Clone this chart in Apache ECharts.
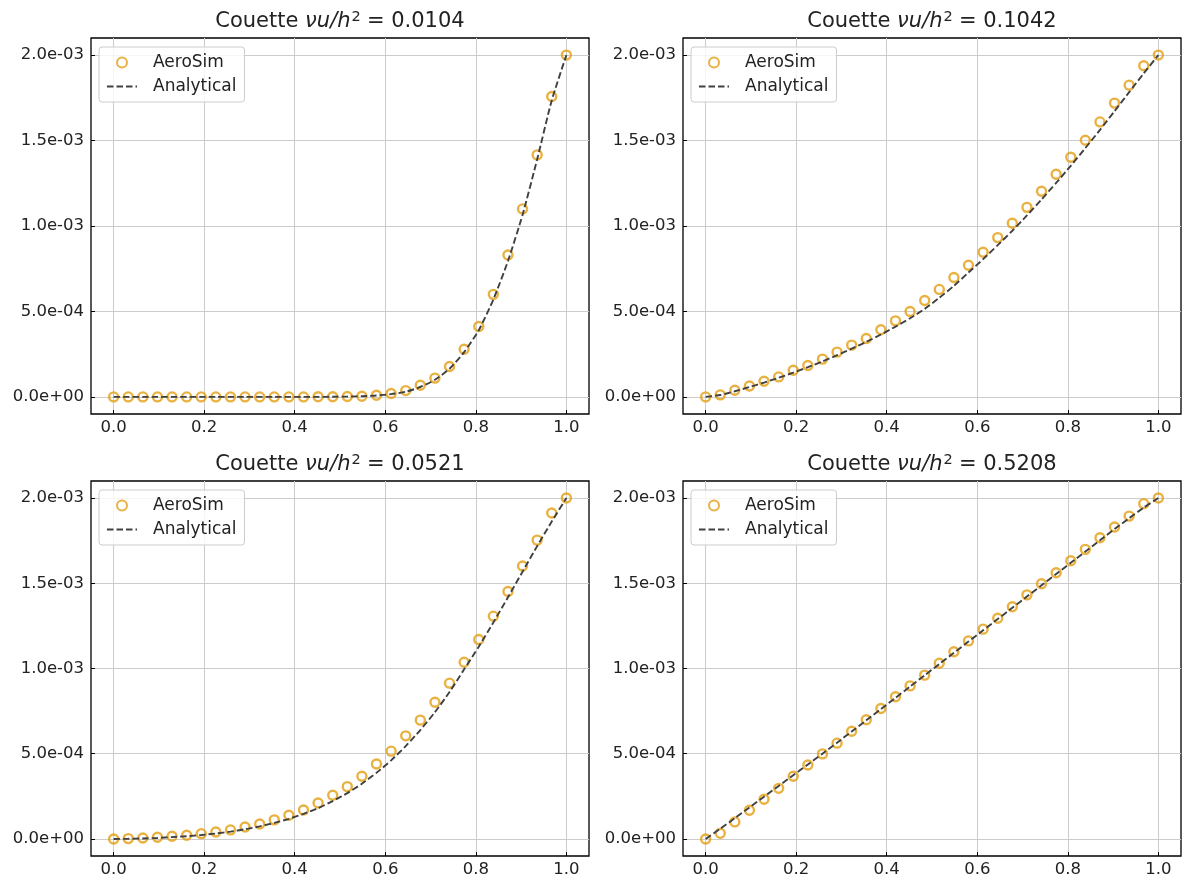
<!DOCTYPE html>
<html>
<head>
<meta charset="utf-8">
<script src="https://cdn.jsdelivr.net/npm/echarts@6/dist/echarts.min.js"></script>
<style>
  html, body { margin: 0; padding: 0; background: #fff; }
  #chart { width: 1189px; height: 889px; }
</style>
</head>
<body>
<div id="chart"></div>
<script>
// grid positions along the channel (32 nodes)
const xs = [0, 0.0323, 0.0645, 0.0968, 0.1290, 0.1613, 0.1935, 0.2258, 0.2581, 0.2903,
  0.3226, 0.3548, 0.3871, 0.4194, 0.4516, 0.4839, 0.5161, 0.5484, 0.5806, 0.6129,
  0.6452, 0.6774, 0.7097, 0.7419, 0.7742, 0.8065, 0.8387, 0.8710, 0.9032, 0.9355, 0.9677, 1.0];

// nu*u/h^2 = 0.0104
const aero0104 = [0, 0, 0, 0, 0, 0, 0, 0, 0, 0, 0, 0, 0, 0, 0.001e-3, 0.001e-3,
  0.002e-3, 0.004e-3, 0.010e-3, 0.020e-3, 0.037e-3, 0.068e-3, 0.110e-3, 0.178e-3, 0.279e-3, 0.412e-3,
  0.600e-3, 0.830e-3, 1.100e-3, 1.416e-3, 1.758e-3, 2.0e-3];
const ana0104 = [0, 0, 0, 0, 0, 0, 0, 0, 0, 0, 0, 0, 0, 0, 0, 0.001e-3,
  0.002e-3, 0.004e-3, 0.008e-3, 0.016e-3, 0.030e-3, 0.058e-3, 0.100e-3, 0.165e-3, 0.262e-3, 0.390e-3,
  0.570e-3, 0.795e-3, 1.065e-3, 1.390e-3, 1.735e-3, 2.0e-3];

// nu*u/h^2 = 0.1042
const aero1042 = [0, 0.012e-3, 0.039e-3, 0.064e-3, 0.092e-3, 0.117e-3, 0.156e-3, 0.184e-3, 0.221e-3, 0.262e-3,
  0.303e-3, 0.342e-3, 0.393e-3, 0.445e-3, 0.500e-3, 0.564e-3, 0.629e-3, 0.699e-3, 0.770e-3, 0.846e-3,
  0.932e-3, 1.016e-3, 1.109e-3, 1.203e-3, 1.303e-3, 1.402e-3, 1.502e-3, 1.609e-3, 1.719e-3, 1.824e-3, 1.938e-3, 2.0e-3];
const ana1042 = [0, 0.011e-3, 0.033e-3, 0.058e-3, 0.084e-3, 0.112e-3, 0.142e-3, 0.174e-3, 0.208e-3, 0.244e-3,
  0.282e-3, 0.322e-3, 0.365e-3, 0.411e-3, 0.460e-3, 0.515e-3, 0.580e-3, 0.650e-3, 0.728e-3, 0.806e-3,
  0.888e-3, 0.972e-3, 1.062e-3, 1.155e-3, 1.252e-3, 1.352e-3, 1.456e-3, 1.562e-3, 1.672e-3, 1.783e-3, 1.893e-3, 2.0e-3];

// nu*u/h^2 = 0.0521
const aero0521 = [0, 0.002e-3, 0.006e-3, 0.010e-3, 0.016e-3, 0.022e-3, 0.031e-3, 0.041e-3, 0.053e-3, 0.070e-3,
  0.088e-3, 0.112e-3, 0.139e-3, 0.170e-3, 0.211e-3, 0.256e-3, 0.307e-3, 0.368e-3, 0.440e-3, 0.515e-3,
  0.605e-3, 0.697e-3, 0.802e-3, 0.914e-3, 1.037e-3, 1.170e-3, 1.307e-3, 1.452e-3, 1.601e-3, 1.753e-3, 1.912e-3, 2.0e-3];
const ana0521 = [0, 0.001e-3, 0.003e-3, 0.006e-3, 0.011e-3, 0.016e-3, 0.023e-3, 0.032e-3, 0.043e-3, 0.057e-3,
  0.074e-3, 0.094e-3, 0.118e-3, 0.147e-3, 0.181e-3, 0.222e-3, 0.269e-3, 0.324e-3, 0.388e-3, 0.461e-3,
  0.545e-3, 0.639e-3, 0.744e-3, 0.862e-3, 0.995e-3, 1.128e-3, 1.270e-3, 1.418e-3, 1.568e-3, 1.718e-3, 1.862e-3, 2.0e-3];

// nu*u/h^2 = 0.5208
const aero5208 = [0, 0.033e-3, 0.100e-3, 0.168e-3, 0.233e-3, 0.297e-3, 0.368e-3, 0.434e-3, 0.499e-3, 0.562e-3,
  0.632e-3, 0.699e-3, 0.765e-3, 0.834e-3, 0.898e-3, 0.961e-3, 1.031e-3, 1.098e-3, 1.162e-3, 1.231e-3,
  1.295e-3, 1.362e-3, 1.432e-3, 1.497e-3, 1.562e-3, 1.632e-3, 1.699e-3, 1.767e-3, 1.830e-3, 1.894e-3, 1.967e-3, 2.0e-3];
const ana5208 = [0, 0.060e-3, 0.122e-3, 0.185e-3, 0.248e-3, 0.311e-3, 0.374e-3, 0.437e-3, 0.500e-3, 0.565e-3,
  0.630e-3, 0.696e-3, 0.762e-3, 0.828e-3, 0.894e-3, 0.960e-3, 1.026e-3, 1.092e-3, 1.158e-3, 1.224e-3,
  1.290e-3, 1.356e-3, 1.422e-3, 1.488e-3, 1.554e-3, 1.620e-3, 1.686e-3, 1.752e-3, 1.818e-3, 1.882e-3, 1.944e-3, 2.0e-3];

const xTicks = [0, 0.2, 0.4, 0.6, 0.8, 1.0];
const yTicks = [0, 5e-4, 1e-3, 1.5e-3, 2e-3];

const panels = [
  { label: '0.0104', aero: aero0104, ana: ana0104, left: 91, top: 38, h: 376 },
  { label: '0.1042', aero: aero1042, ana: ana1042, left: 683, top: 38, h: 376 },
  { label: '0.0521', aero: aero0521, ana: ana0521, left: 91, top: 481, h: 375 },
  { label: '0.5208', aero: aero5208, ana: ana5208, left: 683, top: 481, h: 375 }
];

const FONT = 'DejaVu Sans';
const TXT = '#222';

function fmtExp(v) {
  let s = Number(v).toExponential(1);
  let parts = s.split('e');
  let sign = parts[1][0];
  let d = parts[1].slice(1);
  if (d.length < 2) d = '0' + d;
  return parts[0] + 'e' + sign + d;
}

let chart = echarts.init(document.getElementById('chart'));

let grid = [], xAxis = [], yAxis = [], series = [], title = [], legend = [];
panels.forEach((p, k) => {
  grid.push({
    left: p.left, top: p.top, width: 498, height: p.h,
    show: true, borderColor: '#000', borderWidth: 1.3, backgroundColor: 'transparent',
    containLabel: false, outerBoundsMode: 'none'
  });
  xAxis.push({
    type: 'value', gridIndex: k, min: -0.05, max: 1.05,
    axisLine: { show: false, onZero: false },
    axisTick: { show: true, inside: true, length: 4, customValues: xTicks, lineStyle: { color: '#000', width: 1 } },
    axisLabel: { customValues: xTicks, margin: 5, fontSize: 16.5, color: TXT, fontFamily: FONT,
      formatter: v => Number(v).toFixed(1) },
    splitLine: { show: true, lineStyle: { color: '#cccccc', width: 1 } }
  });
  yAxis.push({
    type: 'value', gridIndex: k, min: -1e-4, max: 2.1e-3,
    axisLine: { show: false, onZero: false },
    axisTick: { show: true, inside: true, length: 4, customValues: yTicks, lineStyle: { color: '#000', width: 1 } },
    axisLabel: { customValues: yTicks, margin: 7, fontSize: 16.5, color: TXT, fontFamily: FONT,
      formatter: fmtExp },
    splitLine: { show: true, lineStyle: { color: '#cccccc', width: 1 } }
  });
  series.push({
    name: 'AeroSim', type: 'scatter', xAxisIndex: k, yAxisIndex: k,
    data: xs.map((x, i) => [x, p.aero[i]]),
    symbol: 'circle', symbolSize: 9,
    itemStyle: { color: 'rgba(255,255,255,0)', borderColor: '#E39E10', borderWidth: 2.4 },
    z: 3
  });
  series.push({
    name: 'Analytical', type: 'line', xAxisIndex: k, yAxisIndex: k,
    data: xs.map((x, i) => [x, p.ana[i]]),
    symbol: 'none', showSymbol: false, smooth: 0.2,
    lineStyle: { color: '#404040', width: 1.9, type: [6.5, 3] },
    itemStyle: { color: '#404040' },
    z: 4
  });
  title.push({
    text: '{r|Couette }{i|νu/h}{s|2}{r|\u2009= ' + p.label + '}',
    left: p.left + 249, top: p.top - 28, textAlign: 'center', padding: 0,
    textStyle: {
      fontWeight: 'normal',
      rich: {
        r: { fontSize: 21, color: TXT, fontFamily: FONT, fontWeight: 'normal' },
        i: { fontSize: 21, color: TXT, fontFamily: FONT, fontWeight: 'normal', fontStyle: 'italic' },
        s: { fontSize: 14.5, color: TXT, fontFamily: FONT, fontWeight: 'normal', verticalAlign: 'top', padding: [0, 2, 9, 1] }
      }
    }
  });
  legend.push({
    orient: 'vertical', left: p.left + 8, top: p.top + 9,
    data: ['AeroSim', { name: 'Analytical', itemStyle: { opacity: 0 } }],
    itemWidth: 30, itemHeight: 10, itemGap: 7,
    padding: [7, 8, 7, 7],
    borderColor: '#cccccc', borderWidth: 1, borderRadius: 3,
    backgroundColor: 'rgba(255,255,255,0.8)',
    textStyle: { fontSize: 17, color: TXT, fontFamily: FONT, padding: [0, 0, 0, 11] },
    selectedMode: false
  });
});

chart.setOption({
  animation: false,
  backgroundColor: '#fff',
  textStyle: { fontFamily: FONT },
  title: title,
  legend: legend,
  grid: grid,
  xAxis: xAxis,
  yAxis: yAxis,
  series: series
});
</script>
</body>
</html>
